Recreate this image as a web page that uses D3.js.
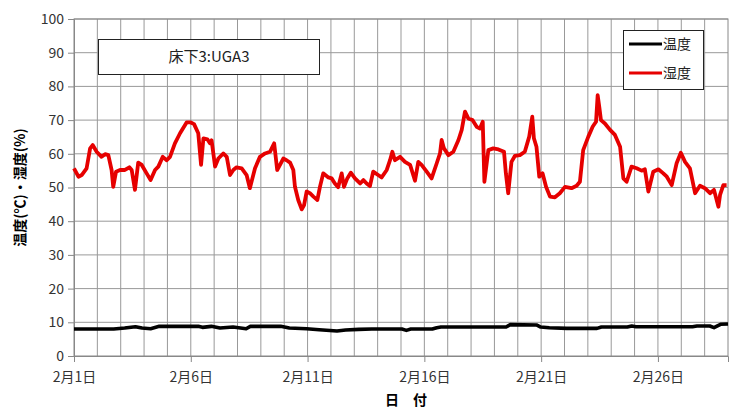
<!DOCTYPE html>
<html>
<head>
<meta charset="utf-8">
<script src="https://cdn.jsdelivr.net/npm/d3@7"></script>
<style>
  body { margin: 0; background: #fff; }
  svg { display: block; font-family: "Noto Sans CJK JP", "Noto Sans", sans-serif; }
</style>
</head>
<body>
<div id="chart"></div>
<script>
// 2月の日付 (2/1 0:00 からの経過日数)
const humDays = [0, 0.19, 0.33, 0.54, 0.69, 0.8, 0.97, 1.18, 1.33, 1.47, 1.61, 1.68, 1.8, 1.97, 2.18, 2.37, 2.47, 2.61, 2.75, 2.9,
  3.11, 3.28, 3.47, 3.61, 3.8, 3.97, 4.11, 4.32, 4.54, 4.82, 5, 5.14, 5.32, 5.44, 5.54, 5.71, 5.82, 5.89, 6.04, 6.18,
  6.39, 6.54, 6.68, 6.82, 6.96, 7.18, 7.39, 7.53, 7.75, 7.96, 8.18, 8.39, 8.57, 8.7, 8.82, 8.96, 9.1, 9.25, 9.39, 9.46,
  9.6, 9.75, 9.85, 9.96, 10.1, 10.25, 10.42, 10.53, 10.67, 10.89, 11.03, 11.17, 11.31, 11.46, 11.56, 11.7, 11.85, 12.03, 12.25, 12.39,
  12.53, 12.67, 12.81, 13.02, 13.17, 13.39, 13.53, 13.63, 13.74, 13.96, 14.17, 14.39, 14.6, 14.74, 14.88, 15.1, 15.31, 15.53, 15.67, 15.74,
  15.84, 16.03, 16.24, 16.46, 16.6, 16.74, 16.88, 17.06, 17.24, 17.38, 17.5, 17.57, 17.74, 17.95, 18.17, 18.41, 18.49, 18.59, 18.73, 18.88,
  19.09, 19.3, 19.49, 19.62, 19.69, 19.8, 19.92, 20.06, 20.21, 20.38, 20.59, 20.8, 21.02, 21.3, 21.52, 21.66, 21.8, 22.02, 22.21, 22.35,
  22.42, 22.49, 22.56, 22.73, 22.95, 23.16, 23.38, 23.52, 23.66, 23.87, 24.09, 24.3, 24.44, 24.59, 24.8, 25.02, 25.23, 25.38, 25.59, 25.8,
  25.98, 26.16, 26.37, 26.59, 26.8, 27.01, 27.23, 27.4, 27.59, 27.66, 27.8, 27.94];
const humValues = [55.7, 53.2, 53.7, 55.7, 61.6, 62.6, 60.6, 59.1, 59.9, 59.6, 55.2, 50.2, 54.7, 55.2, 55.2, 56, 55.2, 49.3, 57.4, 56.7,
  54.2, 52.2, 55.2, 56.2, 59.1, 58.1, 59.1, 63.1, 66.1, 69.3, 69.3, 68.8, 66.1, 56.7, 64.6, 64.3, 63.1, 64, 56.2, 58.6,
  60.1, 59.1, 53.7, 55.2, 56, 55.7, 53.7, 49.8, 55.7, 59.1, 60.1, 60.6, 63.1, 55.2, 56.7, 58.6, 58.1, 57.4, 55.2, 50.2,
  46.3, 43.5, 44.8, 48.8, 48.3, 47.3, 46.3, 50.2, 54.2, 53, 52.7, 51.2, 50.1, 54.2, 50.2, 52.7, 54.4, 52.7, 51.2, 52.2,
  51.2, 50.4, 54.7, 53.7, 53, 55.2, 58.1, 60.6, 58.1, 59.1, 57.6, 56.7, 52, 57.6, 56.7, 54.7, 52.7, 57.2, 60.1, 64.1,
  61.6, 59.6, 60.6, 64.1, 67.1, 72.5, 70.5, 70, 68, 67.5, 69.5, 51.7, 61.1, 61.6, 61.3, 60.6, 54.2, 48.3, 57.6, 59.4,
  59.6, 60.6, 65.1, 71, 64.6, 62.1, 53.2, 54.2, 50.2, 47.3, 47.1, 48.3, 50.2, 49.8, 50.5, 51.7, 61.1, 65.1, 68.1, 69.5,
  77.4, 73.9, 70, 69, 67.1, 65.6, 62.1, 52.7, 51.7, 56.2, 55.7, 55, 55.4, 48.8, 54.7, 55.4, 54.2, 53.2, 50.7, 57.2,
  60.3, 57.6, 55.7, 48.3, 50.5, 49.8, 48.3, 49.3, 44.3, 47.8, 50.7, 50.7];

const tempDays = [0, 1.7, 2.17, 2.63, 2.91, 3.28, 3.65, 5.32, 5.5, 5.88, 6.25, 6.81, 7.37, 7.55, 8.85, 9.22, 9.96, 10.5, 11.26, 11.63,
  12.19, 12.75, 14.04, 14.23, 14.42, 15.34, 15.53, 15.71, 18.5, 18.68, 19.8, 19.98, 20.35, 21.1, 22.39, 22.58, 23.69, 23.88, 24.06, 26.48,
  26.67, 27.22, 27.4, 27.68, 28];
const tempValues = [8.0, 8.0, 8.3, 8.7, 8.3, 8.1, 8.8, 8.8, 8.5, 8.8, 8.3, 8.6, 8.1, 8.8, 8.8, 8.3, 8.1, 7.8, 7.4, 7.7,
  7.9, 8.0, 8.0, 7.6, 8.0, 8.0, 8.4, 8.6, 8.6, 9.3, 9.2, 8.6, 8.4, 8.2, 8.2, 8.6, 8.6, 8.9, 8.7, 8.7,
  8.9, 8.9, 8.4, 9.4, 9.5];

const seriesNames = ["温度", "湿度"];
const seriesColors = ["#000000", "#e60000"];
const tickDays = [0, 5, 10, 15, 20, 25];
const yTicks = [0, 10, 20, 30, 40, 50, 60, 70, 80, 90, 100];
const titleText = "床下3:UGA3";

const width = 737, height = 409;
const margin = { left: 74, right: 9, top: 19, bottom: 53 };
const start = new Date(2012, 1, 1);
const toDate = d => new Date(start.getTime() + d * 864e5);

const svg = d3.select("#chart").append("svg")
  .attr("width", width)
  .attr("height", height);

const x = d3.scaleTime()
  .domain([start, toDate(28)])
  .range([margin.left, width - margin.right]);
const y = d3.scaleLinear()
  .domain([0, 100])
  .range([height - margin.bottom, margin.top]);

// grid
svg.append("g")
  .selectAll("line")
  .data(d3.range(1, 28))
  .join("line")
  .attr("x1", d => x(toDate(d))).attr("x2", d => x(toDate(d)))
  .attr("y1", y(0)).attr("y2", y(100))
  .attr("stroke", "#999").attr("stroke-width", 1);
svg.append("g")
  .selectAll("line")
  .data(yTicks.slice(1))
  .join("line")
  .attr("x1", x.range()[0]).attr("x2", x.range()[1])
  .attr("y1", d => y(d)).attr("y2", d => y(d))
  .attr("stroke", "#999").attr("stroke-width", 1);
svg.append("rect")
  .attr("x", x.range()[0]).attr("y", y(100))
  .attr("width", x.range()[1] - x.range()[0])
  .attr("height", y(0) - y(100))
  .attr("fill", "none").attr("stroke", "#888");

// axes
const xAxis = svg.append("g")
  .attr("transform", `translate(0,${y(0)})`)
  .call(d3.axisBottom(x)
    .tickValues(tickDays.map(toDate))
    .tickSize(6)
    .tickPadding(10)
    .tickFormat(d => `${d.getMonth() + 1}月${d.getDate()}日`));
const yAxis = svg.append("g")
  .attr("transform", `translate(${x.range()[0]},0)`)
  .call(d3.axisLeft(y).tickValues(yTicks).tickSize(6).tickPadding(4));
[xAxis, yAxis].forEach(g => {
  g.select(".domain").attr("stroke", "#888");
  g.selectAll(".tick line").attr("stroke", "#888");
  g.selectAll(".tick text")
    .attr("fill", "#333")
    .style("font-size", "14px")
    .style("font-family", '"Noto Sans CJK JP", sans-serif');
});

// lines
const line = d3.line()
  .x(d => x(toDate(d[0])))
  .y(d => y(d[1]));

svg.append("path")
  .datum(d3.zip(tempDays, tempValues))
  .attr("d", line)
  .attr("fill", "none")
  .attr("stroke", seriesColors[0])
  .attr("stroke-width", 3.6)
  .attr("stroke-linejoin", "round");

svg.append("path")
  .datum(d3.zip(humDays, humValues))
  .attr("d", line)
  .attr("fill", "none")
  .attr("stroke", seriesColors[1])
  .attr("stroke-width", 3.8)
  .attr("stroke-linejoin", "round");

// title box
svg.append("rect")
  .attr("x", 98.5).attr("y", 39.5)
  .attr("width", 221).attr("height", 35)
  .attr("fill", "#fff").attr("stroke", "#222");
svg.append("text")
  .attr("x", 209).attr("y", 57)
  .attr("dy", "0.35em")
  .attr("text-anchor", "middle")
  .attr("fill", "#222")
  .style("font-size", "15px")
  .text(titleText);

// legend
const legend = svg.append("g");
legend.append("rect")
  .attr("x", 623.5).attr("y", 30.5)
  .attr("width", 80).attr("height", 59)
  .attr("fill", "#fff").attr("stroke", "#222");
seriesNames.forEach((name, i) => {
  const ly = 44 + i * 29;
  legend.append("line")
    .attr("x1", 629).attr("x2", 662)
    .attr("y1", ly).attr("y2", ly)
    .attr("stroke", seriesColors[i])
    .attr("stroke-width", 3);
  legend.append("text")
    .attr("x", 663).attr("y", ly)
    .attr("dy", "0.35em")
    .attr("fill", "#222")
    .style("font-size", "14px")
    .text(name);
});

// axis titles
svg.append("text")
  .attr("transform", `translate(20,${(y(0) + y(100)) / 2}) rotate(-90)`)
  .attr("text-anchor", "middle")
  .attr("dy", "0.35em")
  .style("font-size", "14px")
  .style("font-weight", "bold")
  .text("温度(℃)・湿度(%)");
svg.append("text")
  .attr("x", 406).attr("y", 405)
  .attr("text-anchor", "middle")
  .style("font-size", "14px")
  .style("font-weight", "bold")
  .text("日　付");
</script>
</body>
</html>
